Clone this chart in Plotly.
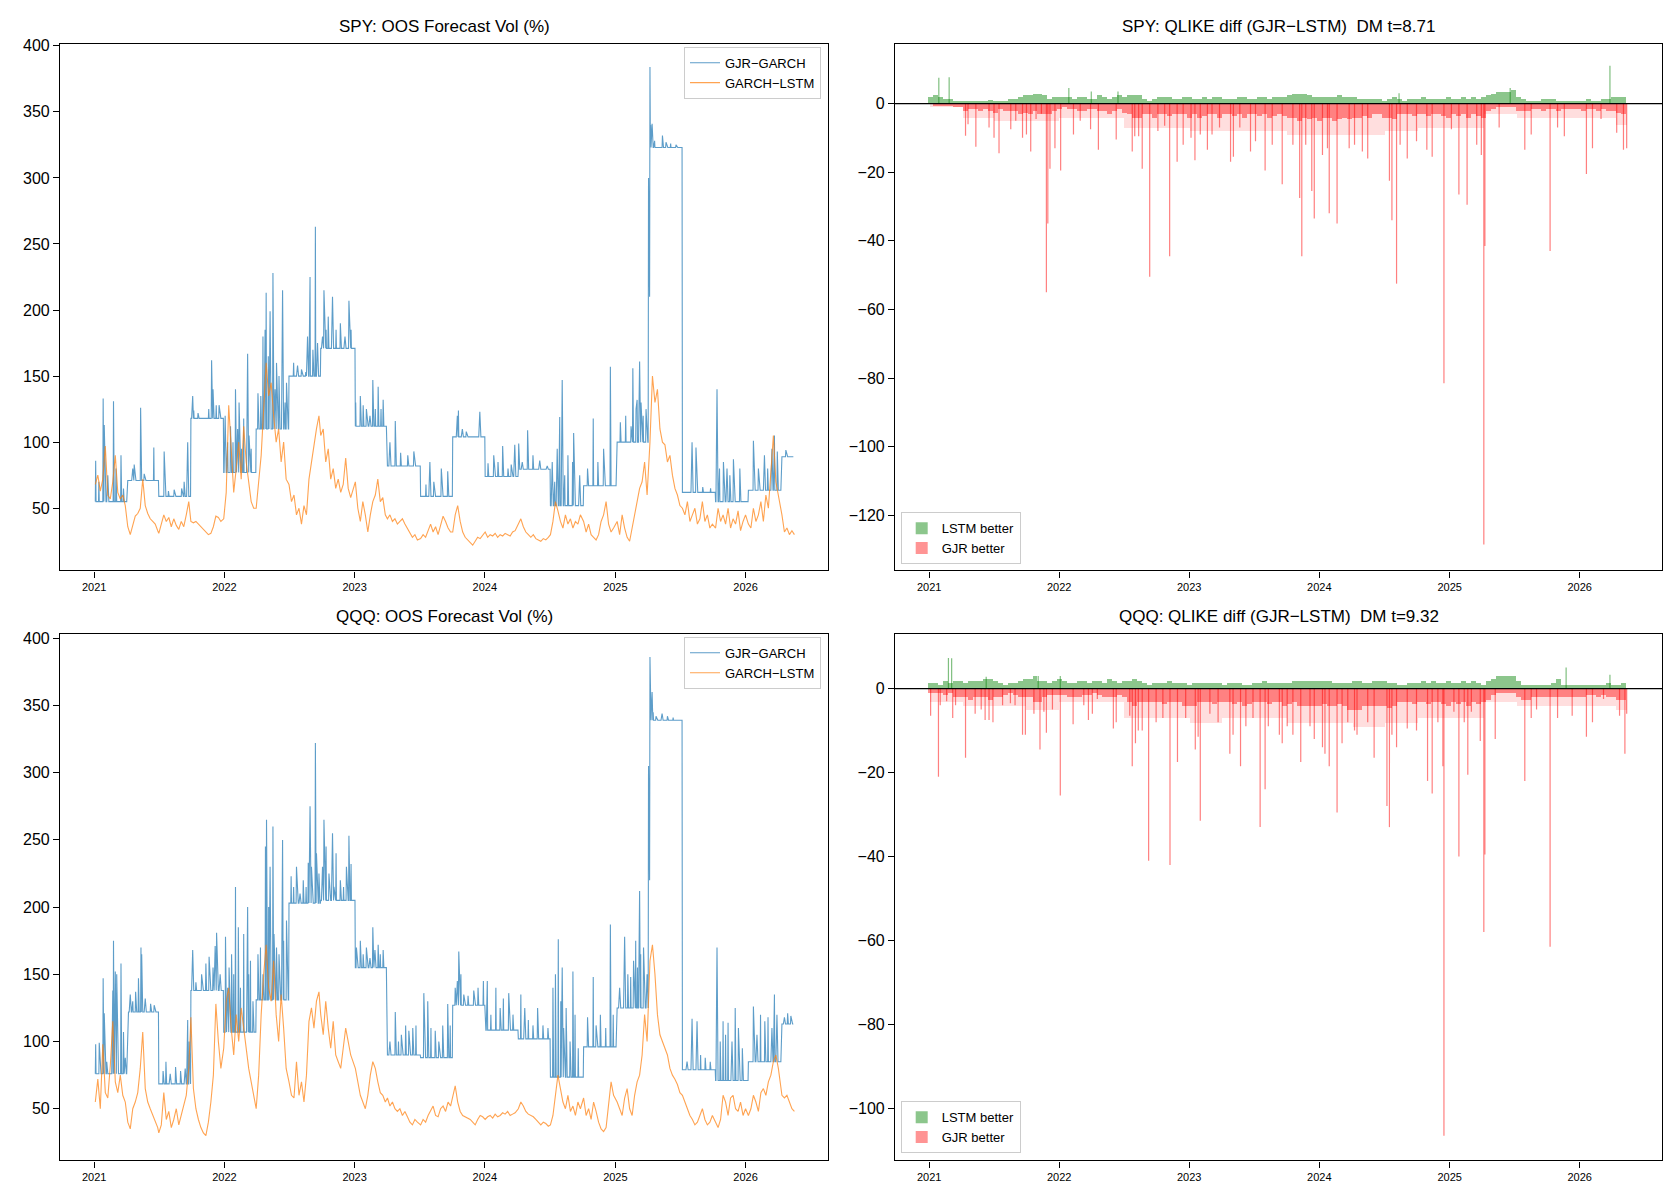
import numpy as np
import pandas as pd
import plotly.graph_objects as go

# ---------------- data ----------------
day_start, day_end = "2021-01-04", "2026-05-15"
biweek_start = "2021-01-04"          # biweekly samples, 14 days apart

# GJR refit segments (start dates)
seg_starts = ["2021-01-04", "2021-04-05", "2021-07-01", "2021-09-29", "2021-12-30", "2022-03-31",
              "2022-07-01", "2022-09-28", "2023-01-03", "2023-04-03", "2023-07-05", "2023-10-03",
              "2024-01-02", "2024-04-04", "2024-07-03", "2024-10-04", "2025-01-06", "2025-04-08",
              "2025-07-08", "2025-10-09", "2026-01-09", "2026-04-13"]

spy_gjr_base = [55, 71, 59, 118, 77, 110, 150, 171, 112, 82, 59, 104, 74, 79.5, 52, 67, 100, 323,
                62, 55, 63.6, 89]
spy_gjr_spike_dates = [
    "2021-01-05", "2021-01-14", "2021-01-26", "2021-01-29", "2021-02-08", "2021-02-24", "2021-03-03", "2021-03-17", "2021-03-24",
    "2021-04-19", "2021-04-23", "2021-05-11", "2021-05-21", "2021-06-17",
    "2021-07-16", "2021-07-28", "2021-08-13", "2021-09-03", "2021-09-10", "2021-09-20",
    "2021-10-04", "2021-10-07", "2021-10-19", "2021-11-18", "2021-11-26", "2021-11-30", "2021-12-09", "2021-12-17",
    "2022-01-03", "2022-01-10", "2022-01-18", "2022-01-25", "2022-02-01", "2022-02-07", "2022-02-11", "2022-02-18",
    "2022-02-24", "2022-03-07", "2022-03-11", "2022-03-17",
    "2022-04-05", "2022-04-13", "2022-04-19", "2022-04-25", "2022-04-28", "2022-05-04", "2022-05-09", "2022-05-17",
    "2022-05-23", "2022-05-27", "2022-06-03", "2022-06-13", "2022-06-20", "2022-06-24",
    "2022-07-14", "2022-07-25", "2022-08-05", "2022-08-17", "2022-08-22", "2022-08-29", "2022-09-06", "2022-09-13", "2022-09-19",
    "2022-10-03", "2022-10-07", "2022-10-13", "2022-10-19", "2022-10-31", "2022-11-10", "2022-11-22", "2022-12-05", "2022-12-16", "2022-12-22",
    "2023-01-04", "2023-01-17", "2023-01-25", "2023-02-03", "2023-02-13", "2023-02-21", "2023-02-28", "2023-03-08", "2023-03-16", "2023-03-22",
    "2023-04-10", "2023-04-25", "2023-05-10", "2023-05-30", "2023-06-16",
    "2023-07-20", "2023-07-31", "2023-08-11", "2023-09-01", "2023-09-19",
    "2023-10-16", "2023-10-19", "2023-10-30", "2023-11-10", "2023-12-18",
    "2024-01-10", "2024-01-26", "2024-02-07", "2024-02-20", "2024-03-06", "2024-03-15", "2024-03-25",
    "2024-04-05", "2024-04-15", "2024-04-30", "2024-05-15", "2024-06-03", "2024-06-24",
    "2024-07-08", "2024-07-15", "2024-07-22", "2024-07-29", "2024-08-05", "2024-08-12", "2024-08-21", "2024-09-03", "2024-09-06", "2024-09-23",
    "2024-10-15", "2024-10-31", "2024-11-13", "2024-11-29", "2024-12-18",
    "2025-01-15", "2025-01-30", "2025-02-14", "2025-02-19", "2025-02-28", "2025-03-03", "2025-03-10", "2025-03-14", "2025-03-20", "2025-03-28",
    "2025-04-04", "2025-04-07", "2025-04-08", "2025-04-09", "2025-04-10", "2025-04-14", "2025-04-21", "2025-05-13", "2025-05-23", "2025-06-05", "2025-06-20",
    "2025-08-04", "2025-08-15", "2025-09-03", "2025-09-25",
    "2025-10-13", "2025-10-20", "2025-10-31", "2025-11-10", "2025-11-18", "2025-11-28", "2025-12-16",
    "2026-01-23", "2026-02-06", "2026-02-23", "2026-03-04", "2026-03-16", "2026-03-23", "2026-03-31",
    "2026-04-24"]
spy_gjr_spike_vals = [
    86, 70, 133, 113, 75, 131, 80, 90, 65,
    80, 83, 126, 76, 96,
    93, 63, 64, 65, 70, 100,
    135, 124, 122, 125, 162, 140, 128, 128,
    120, 100, 112, 100, 140, 110, 130, 95, 118, 167, 105, 95,
    137, 135, 180, 185, 213, 165, 199, 228, 140, 160, 150, 215, 130, 145,
    160, 158, 155, 153, 180, 225, 170, 263, 175,
    180, 215, 185, 195, 210, 185, 190, 180, 207, 185,
    130, 135, 128, 125, 120, 147, 125, 142, 125, 132,
    100, 116, 92, 90, 93,
    68, 85, 70, 80, 78,
    120, 124, 110, 108, 123,
    84, 90, 85, 97, 80, 83, 98,
    99, 85, 109, 90, 86, 82,
    85, 70, 95, 119, 147, 75, 90, 85, 107, 75,
    80, 118, 85, 95, 157,
    115, 120, 112, 156, 125, 132, 161, 130, 120, 125,
    300, 210, 384, 335, 340, 341, 328, 332, 327, 326, 325,
    100, 96, 66, 65,
    140, 80, 85, 80, 75, 87, 80,
    101, 80, 90, 80, 95, 105, 93,
    94]

qqq_gjr_base = [76, 122, 68.5, 138, 107, 131, 203, 205, 155, 90, 88, 127, 108.5, 102, 73.5, 96, 125, 339,
                79, 71, 85, 113]
qqq_gjr_spike_dates = [
    "2021-01-05", "2021-01-15", "2021-01-26", "2021-01-29", "2021-02-05", "2021-02-22", "2021-02-24", "2021-03-01", "2021-03-05", "2021-03-17", "2021-03-24", "2021-03-29",
    "2021-04-12", "2021-04-19", "2021-04-27", "2021-05-05", "2021-05-12", "2021-05-14", "2021-05-24", "2021-06-08", "2021-06-18",
    "2021-07-13", "2021-07-21", "2021-08-02", "2021-08-17", "2021-08-31", "2021-09-13", "2021-09-20", "2021-09-24",
    "2021-10-04", "2021-10-13", "2021-10-29", "2021-11-10", "2021-11-19", "2021-11-30", "2021-12-06", "2021-12-10", "2021-12-20",
    "2022-01-04", "2022-01-10", "2022-01-14", "2022-01-21", "2022-01-27", "2022-02-01", "2022-02-09", "2022-02-15", "2022-02-24", "2022-03-07", "2022-03-10", "2022-03-15", "2022-03-22",
    "2022-04-05", "2022-04-12", "2022-04-19", "2022-04-26", "2022-04-29", "2022-05-05", "2022-05-09", "2022-05-17", "2022-05-20", "2022-05-27", "2022-06-03", "2022-06-13", "2022-06-16", "2022-06-24",
    "2022-07-07", "2022-07-14", "2022-07-22", "2022-08-01", "2022-08-10", "2022-08-18", "2022-08-24", "2022-08-29", "2022-09-02", "2022-09-13", "2022-09-16", "2022-09-23",
    "2022-10-03", "2022-10-07", "2022-10-13", "2022-10-21", "2022-10-31", "2022-11-04", "2022-11-10", "2022-11-22", "2022-12-01", "2022-12-09", "2022-12-16", "2022-12-22",
    "2023-01-06", "2023-01-17", "2023-01-25", "2023-02-03", "2023-02-13", "2023-02-21", "2023-02-27", "2023-03-08", "2023-03-14", "2023-03-22",
    "2023-04-10", "2023-04-25", "2023-05-04", "2023-05-12", "2023-05-24", "2023-06-02", "2023-06-13", "2023-06-22",
    "2023-07-14", "2023-07-25", "2023-08-03", "2023-08-15", "2023-08-25", "2023-09-05", "2023-09-19", "2023-09-26",
    "2023-10-10", "2023-10-16", "2023-10-20", "2023-10-26", "2023-11-03", "2023-11-15", "2023-12-01", "2023-12-13", "2023-12-28",
    "2024-01-08", "2024-01-18", "2024-02-01", "2024-02-13", "2024-02-22", "2024-03-08", "2024-03-20",
    "2024-04-11", "2024-04-22", "2024-05-02", "2024-05-15", "2024-05-28", "2024-06-12", "2024-06-26",
    "2024-07-10", "2024-07-17", "2024-07-25", "2024-08-01", "2024-08-05", "2024-08-09", "2024-08-16", "2024-08-27", "2024-09-04", "2024-09-10", "2024-09-19",
    "2024-10-15", "2024-10-31", "2024-11-08", "2024-11-20", "2024-12-05", "2024-12-18", "2024-12-26",
    "2025-01-13", "2025-01-27", "2025-02-05", "2025-02-13", "2025-02-21", "2025-02-27", "2025-03-04", "2025-03-10", "2025-03-13", "2025-03-21", "2025-03-31",
    "2025-04-04", "2025-04-07", "2025-04-08", "2025-04-10", "2025-04-14", "2025-04-17", "2025-04-25", "2025-05-12", "2025-05-27", "2025-06-12",
    "2025-07-21", "2025-08-04", "2025-08-18", "2025-08-28", "2025-09-10", "2025-09-24",
    "2025-10-13", "2025-10-22", "2025-10-30", "2025-11-06", "2025-11-13", "2025-11-24", "2025-12-03", "2025-12-12", "2025-12-23",
    "2026-01-23", "2026-02-02", "2026-02-12", "2026-02-24", "2026-03-05", "2026-03-16", "2026-03-23", "2026-03-30",
    "2026-04-20", "2026-04-29", "2026-05-08"]
qqq_gjr_spike_vals = [
    98, 99, 147, 121, 85, 138, 175, 152, 150, 158, 107, 88,
    135, 130, 137, 147, 170, 165, 132, 128, 127,
    78, 85, 76, 81, 78, 80, 116, 100,
    168, 144, 150, 158, 163, 155, 171, 181, 150,
    178, 140, 155, 165, 150, 215, 185, 140, 180, 200, 150, 160, 130,
    165, 170, 150, 245, 265, 200, 230, 260, 180, 170, 165, 250, 175, 190,
    223, 215, 230, 210, 220, 215, 233, 275, 230, 322, 240, 225,
    230, 265, 245, 225, 255, 215, 240, 220, 215, 230, 253, 232,
    170, 175, 165, 170, 162, 185, 168, 172, 165, 168,
    100, 122, 100, 105, 112, 108, 110, 112,
    136, 130, 110, 108, 100, 112, 128, 112,
    140, 145, 167, 150, 135, 134, 138, 140, 145,
    145, 120, 140, 125, 132, 136, 120,
    135, 125, 116, 112, 125, 112, 110,
    140, 150, 176, 130, 155, 110, 125, 100, 152, 120, 95,
    118, 148, 112, 120, 110, 187, 120,
    140, 178, 150, 148, 160, 175, 155, 212, 165, 170, 150,
    305, 220, 386, 364, 360, 345, 342, 344, 342, 341,
    85, 117, 115, 90, 88, 85,
    170, 100, 115, 105, 114, 100, 125, 110, 95,
    126, 105, 120, 115, 118, 110, 135, 120,
    118, 121, 119]

# GARCH-LSTM forecasts: weekly readings, one row per refit segment (row k starts at seg_starts[k])
spy_lstm_weekly = [
    [68, 75, 63, 72, 97, 60, 57, 70, 90, 62, 57, 60, 52],
    [36, 30, 38, 44, 46, 50, 72, 52, 46, 42, 40, 38, 33],
    [31, 38, 45, 40, 43, 36, 42, 37, 34, 40, 36, 45, 55],
    [40, 39, 40, 38, 36, 34, 32, 30, 31, 36, 44, 43, 40],
    [42, 62, 128, 95, 62, 80, 100, 72, 112, 85, 70, 55, 50],
    [50, 70, 90, 125, 160, 135, 145, 120, 100, 110, 85, 100, 72],
    [68, 55, 60, 45, 50, 38, 52, 45, 72, 85, 100, 110, 120],
    [105, 110, 85, 95, 72, 80, 65, 72, 62, 68, 88, 65, 58],
    [70, 50, 40, 55, 45, 32, 45, 55, 60, 72, 55, 58, 45],
    [42, 45, 40, 42, 38, 40, 42, 38, 35, 32, 28, 30, 26],
    [27, 30, 28, 33, 38, 32, 36, 30, 38, 44, 40, 35, 32],
    [32, 45, 52, 40, 32, 28, 26, 24, 22, 25, 28, 27, 30],
    [32, 28, 30, 29, 31, 28, 30, 29, 31, 30, 29, 32, 33],
    [38, 42, 36, 32, 30, 28, 30, 27, 26, 25, 27, 26, 28],
    [30, 40, 55, 48, 40, 35, 45, 38, 42, 35, 40, 38, 45],
    [40, 32, 38, 30, 28, 26, 30, 40, 45, 55, 38, 32, 35],
    [40, 30, 45, 35, 28, 25, 35, 42, 55, 65, 70, 85, 60],
    [100, 150, 130, 140, 110, 100, 98, 85, 90, 75, 65, 60, 52],
    [50, 45, 55, 40, 45, 50, 38, 42, 55, 40, 45, 35, 38],
    [35, 50, 40, 45, 38, 50, 35, 42, 38, 48, 33, 40, 45],
    [38, 35, 50, 40, 45, 55, 40, 60, 50, 80, 105, 70, 60],
    [45, 32, 35, 30, 33, 30],
]
qqq_lstm_weekly = [
    [55, 72, 50, 98, 62, 58, 82, 115, 70, 62, 75, 60, 55],
    [40, 35, 50, 55, 62, 80, 107, 65, 55, 50, 45, 40, 36],
    [32, 38, 62, 42, 48, 36, 42, 50, 38, 45, 52, 60, 80],
    [118, 65, 50, 42, 36, 32, 30, 40, 55, 75, 128, 100, 80],
    [95, 130, 140, 110, 90, 120, 100, 125, 110, 95, 80, 70, 60],
    [50, 75, 120, 150, 172, 140, 130, 160, 120, 100, 135, 110, 80],
    [70, 60, 58, 85, 60, 70, 55, 75, 115, 125, 110, 130, 137],
    [120, 105, 130, 110, 95, 115, 90, 85, 80, 95, 110, 100, 90],
    [80, 70, 60, 55, 50, 60, 75, 85, 80, 70, 62, 60, 55],
    [58, 52, 55, 50, 48, 50, 45, 48, 44, 40, 38, 42, 40],
    [38, 42, 40, 45, 48, 52, 45, 44, 50, 52, 48, 55, 52],
    [60, 67, 55, 48, 45, 44, 43, 42, 40, 38, 42, 45, 44],
    [42, 44, 45, 43, 46, 44, 45, 47, 46, 48, 45, 46, 47],
    [50, 55, 52, 48, 46, 45, 44, 42, 40, 38, 40, 39, 37],
    [38, 45, 60, 75, 65, 55, 50, 60, 48, 52, 45, 55, 50],
    [58, 45, 50, 42, 55, 48, 40, 35, 33, 36, 55, 70, 60],
    [55, 50, 45, 58, 65, 50, 45, 60, 70, 75, 90, 120, 100],
    [160, 172, 150, 120, 105, 100, 95, 90, 80, 75, 72, 68, 62],
    [60, 55, 50, 45, 42, 38, 40, 45, 50, 42, 38, 40, 45],
    [40, 36, 42, 60, 55, 45, 58, 60, 50, 48, 55, 45, 50],
    [45, 50, 60, 55, 48, 62, 65, 60, 70, 75, 85, 90, 80],
    [60, 58, 60, 55, 50, 48],
]

spy_green = [2, 2.5, 2, 1.5, 1.5, 0.8, 1, 0.8, 0.8, 1,
             1, 1, 1.2, 1, 1, 1, 1.5, 1.5, 2, 2.5,
             2.5, 3, 3, 2.5, 1.5, 2, 2, 2, 2, 1.5,
             2, 2, 1.5, 1.5, 2.5, 2, 1.5, 2, 2.5, 2,
             2.5, 2.5, 2.5, 1.5, 1, 1.5, 2, 2, 2, 1.5,
             1.5, 2, 2, 1.5, 1.5, 2, 1.5, 2, 2, 1.5,
             1.5, 1.5, 2, 2, 1.5, 1.5, 2, 2, 1.5, 2,
             2, 2, 2.5, 3, 3, 3, 2.5, 2, 2, 2,
             2, 2, 2.5, 2, 2, 2, 1.5, 1.5, 1.5, 1.5,
             1.5, 1, 1.5, 2, 1.5, 1, 1.5, 1.5, 1.5, 2,
             1.5, 1.5, 1.5, 1.5, 2, 1.5, 1.5, 2, 1.5, 2,
             1.5, 2, 2.5, 3, 3.5, 3.5, 3.5, 4, 2, 1.5,
             1, 1, 1, 1.5, 1.5, 1.5, 1, 1, 1, 1,
             1, 1, 1.5, 1, 1, 1.5, 1.5, 2, 2, 2]
spy_red = [0, -0.5, -0.5, -0.5, -0.5, -1, -1, -2, -1.5, -1.5,
           -2, -1.5, -2, -2.5, -1.5, -2, -2, -2, -3, -2.5,
           -3, -2, -3, -3, -3, -2, -1.5, -1, -1.5, -1.5,
           -2, -2, -1.5, -1.5, -2, -2, -3, -2, -1.5, -2.5,
           -3, -4, -4, -3, -3, -4, -3, -3, -3.5, -3,
           -3, -3, -4, -3, -4, -3.5, -3, -3, -4, -3,
           -3, -3.5, -3, -4, -3, -3, -3.5, -3, -4, -3.5,
           -3, -3.5, -4, -4, -5, -4, -4.5, -4, -5, -4,
           -4, -5, -4.5, -4, -4.5, -4, -4, -3.5, -4, -3,
           -3, -4, -4, -4.5, -3, -3, -3, -3.5, -3, -3,
           -3.5, -3, -3, -3.5, -4, -3, -3.5, -3, -4, -3,
           -3.5, -4, -2, -1.5, -1, -1, -1, -1, -2, -2,
           -2, -1.5, -1.5, -2, -1.5, -1.5, -2, -1.5, -1.5, -1.5,
           -1.5, -2, -1.5, -1.5, -2, -1.5, -2, -2, -2.5, -3]
# typical depth of the dense field of small red bars, per refit segment
spy_red_field = [-1, -4, -5, -5, -4, -4, -7, -7, -8, -8, -8, -9, -9, -9, -8, -7, -7, -3, -4, -4, -4, -6]
spy_green_spike_dates = ["2021-01-28", "2021-02-26", "2022-01-28", "2022-04-01", "2022-06-15", "2024-08-12",
                         "2025-06-20", "2026-03-27"]
spy_green_spike_vals = [7.5, 7.7, 4.5, 3.5, 3.5, 3, 4.5, 11]
spy_red_spike_dates = [
    "2021-04-13", "2021-04-20", "2021-05-12", "2021-06-18", "2021-07-02", "2021-07-16", "2021-08-18", "2021-09-01",
    "2021-09-20", "2021-10-01", "2021-10-13", "2021-10-28", "2021-11-12", "2021-11-26", "2021-11-30", "2021-12-06",
    "2021-12-20", "2022-01-05", "2022-02-10", "2022-03-01", "2022-03-30", "2022-04-21", "2022-06-10", "2022-07-25",
    "2022-08-01", "2022-08-12", "2022-08-22", "2022-09-12", "2022-10-05", "2022-10-24", "2022-11-07", "2022-11-28",
    "2022-12-15", "2023-01-06", "2023-01-17", "2023-02-01", "2023-02-21", "2023-03-06", "2023-03-27", "2023-04-27",
    "2023-05-05", "2023-05-23", "2023-06-22", "2023-07-06", "2023-08-02", "2023-08-22", "2023-09-19", "2023-10-19",
    "2023-11-07", "2023-11-13", "2023-11-24", "2023-12-11", "2023-12-18", "2024-01-10", "2024-01-24", "2024-01-29",
    "2024-02-20", "2024-03-25", "2024-04-09", "2024-05-01", "2024-05-16", "2024-07-16", "2024-07-23", "2024-08-05",
    "2024-08-15", "2024-09-04", "2024-09-30", "2024-10-29", "2024-11-13", "2024-12-16", "2025-01-06", "2025-01-27",
    "2025-02-19", "2025-03-18", "2025-03-31", "2025-04-07", "2025-04-10", "2025-05-20", "2025-07-31", "2025-08-18",
    "2025-10-10", "2025-10-31", "2025-11-19", "2026-01-20", "2026-02-06", "2026-03-02", "2026-04-15", "2026-05-04",
    "2026-05-13"]
spy_red_spike_vals = [
    -9.4, -6, -12.6, -7, -10, -14.5, -7.5, -5,
    -10, -9, -14, -4.5, -3, -55, -35, -19,
    -13, -19.5, -9, -5, -7.5, -13.5, -10.5, -14,
    -9.5, -9.5, -19, -50.5, -8, -6.5, -44.5, -17,
    -12, -10, -16.5, -9, -13.5, -9, -7, -17,
    -15.5, -7, -14, -11, -19.5, -12, -23.5, -12,
    -27.5, -44.5, -12, -25.5, -33.5, -15, -13, -32,
    -35, -13, -12, -14, -16, -22.5, -34, -52.5,
    -12, -16, -11, -13.5, -15.5, -81.5, -7.5, -26.5,
    -29.5, -12, -15, -128.5, -41.5, -7, -13.5, -9,
    -43, -7, -9.5, -20.5, -13, -4.5, -8.5, -13.5,
    -13]

qqq_green = [1.5, 1.5, 1, 2, 1.5, 2, 2, 1.5, 2, 2,
             2, 2.5, 2.5, 2, 1.5, 1, 1.5, 1.5, 2, 2.5,
             2.5, 3, 2, 2, 1.5, 2, 2.5, 2, 1.5, 1.5,
             2, 2, 1.5, 2, 2, 1.5, 2.5, 2, 1.5, 2,
             2, 2.5, 2, 1.5, 1, 1.5, 1.5, 1.5, 2, 1.5,
             1.5, 1.5, 1, 1.5, 1.5, 1.5, 1.5, 1.5, 1.5, 1,
             1.5, 1.5, 1.5, 1, 1, 1.5, 1.5, 2, 1.5, 1.5,
             1.5, 1.5, 1.5, 2, 2, 2, 2, 2, 2, 2,
             2, 1.5, 1.5, 1.5, 1.5, 2, 2, 1.5, 1.5, 2,
             2, 2, 1.5, 1.5, 1, 1, 1.5, 1.5, 1.5, 2,
             1.5, 2, 1.5, 1.5, 2, 1.5, 1.5, 2, 1.5, 2,
             1.5, 1, 2, 2.5, 3, 3, 3, 3, 2, 1,
             1, 1, 1, 1, 1, 1.5, 2.5, 1, 1, 1,
             1, 1, 1, 1, 1, 1, 1.5, 1, 1, 1.5]
qqq_red = [-1, -1, -1, -1.5, -1, -2, -2, -2, -2.5, -2,
           -2, -2, -2.5, -2, -2, -1.5, -1, -1.5, -2, -2,
           -2, -3, -3, -2, -1.5, -1.5, -1.5, -1.5, -2, -2,
           -2, -1.5, -1.5, -1, -1.5, -2, -2, -2, -1.5, -2,
           -3, -4, -3, -3, -3, -3, -3, -3.5, -3, -3,
           -3, -4, -4, -4, -3, -3, -3, -3.5, -3, -3,
           -3, -3.5, -3, -4, -3.5, -3, -3, -3, -3.5, -3,
           -3, -4, -3.5, -3, -4, -4, -4, -4, -4, -3.5,
           -4, -4, -3.5, -4, -5, -5, -5, -4, -4, -4,
           -4, -4, -4.5, -4, -3, -3, -3, -3.5, -3, -3,
           -3.5, -3, -3, -3.5, -4, -3, -3.5, -3, -4, -3,
           -3.5, -3, -2.5, -1.5, -1, -1, -1, -1, -2, -2.5,
           -2.5, -2, -2, -2, -2, -2, -2, -2, -2, -2,
           -2, -2, -1.5, -1.5, -2, -1.5, -2, -2, -2.5, -2.5]
qqq_red_field = [-3, -4, -4, -5, -3, -3, -7, -7, -8, -7, -7, -8, -8, -9, -8, -7, -7, -3, -4, -4, -4, -5]
qqq_green_spike_dates = ["2021-02-24", "2021-03-05", "2021-06-10", "2021-11-03", "2022-01-04",
                         "2025-11-24", "2026-03-27"]
qqq_green_spike_vals = [7.3, 7.2, 2.8, 3, 3, 5, 3.3]
qqq_red_spike_dates = [
    "2021-01-05", "2021-01-27", "2021-02-01", "2021-02-19", "2021-03-08", "2021-03-16", "2021-04-13", "2021-05-10",
    "2021-05-27", "2021-06-07", "2021-06-18", "2021-06-29", "2021-07-26", "2021-08-17", "2021-08-30", "2021-09-20",
    "2021-09-28", "2021-10-22", "2021-11-08", "2021-11-19", "2021-11-26", "2021-12-13", "2022-01-04", "2022-02-09",
    "2022-03-11", "2022-03-24", "2022-04-04", "2022-04-18", "2022-06-02", "2022-06-10", "2022-07-18", "2022-07-25",
    "2022-08-03", "2022-08-11", "2022-08-22", "2022-09-09", "2022-09-30", "2022-10-19", "2022-11-08", "2022-11-29",
    "2022-12-22", "2023-01-18", "2023-01-26", "2023-02-01", "2023-02-28", "2023-03-23", "2023-04-25", "2023-05-04",
    "2023-05-25", "2023-06-09", "2023-06-29", "2023-07-19", "2023-08-02", "2023-08-11", "2023-09-11", "2023-09-19",
    "2023-10-03", "2023-10-19", "2023-11-10", "2023-12-06", "2023-12-18", "2024-01-10", "2024-01-17", "2024-01-29",
    "2024-02-20", "2024-03-05", "2024-03-21", "2024-04-09", "2024-04-16", "2024-05-16", "2024-06-03", "2024-07-09",
    "2024-07-16", "2024-07-23", "2024-08-05", "2024-09-04", "2024-09-30", "2024-10-31", "2024-11-13", "2024-11-29",
    "2024-12-13", "2024-12-16", "2025-01-13", "2025-01-27", "2025-02-11", "2025-02-21", "2025-03-03", "2025-03-28",
    "2025-04-07", "2025-04-10", "2025-05-09", "2025-07-31", "2025-08-18", "2025-09-02", "2025-10-10", "2025-10-31",
    "2025-12-11", "2026-01-20", "2026-02-06", "2026-03-09", "2026-04-23", "2026-05-08", "2026-05-13"]
qqq_red_spike_vals = [
    -6.5, -21, -4, -3, -7, -4, -16.5, -6,
    -5, -7.5, -7.5, -8, -4, -3.5, -4, -11,
    -11, -6, -14.5, -5.5, -10.5, -5, -25.5, -8.5,
    -4, -7.5, -6, -2.5, -9.5, -8, -6.5, -18.5,
    -13, -10, -10, -41, -8, -7, -42, -17.5,
    -7, -14.5, -11.5, -31.5, -6, -8, -15.5, -11,
    -18.5, -9, -7, -33, -24, -9, -11, -13,
    -9, -11, -17.5, -9, -12, -14, -15.5, -18.5,
    -29.5, -13, -8, -10, -11, -8, -16.5, -28,
    -33, -11, -14, -9.5, -10, -22, -25, -8,
    -18.5, -106.5, -5.5, -40, -8, -20.5, -5.5, -12.5,
    -58, -39.5, -12, -22, -7, -5, -61.5, -7,
    -6.5, -11.5, -8, -2.5, -6.5, -15.5, -6]

year_ticks = ["2021", "2022", "2023", "2024", "2025", "2026"]

# ---------------- helpers ----------------
days = pd.bdate_range(day_start, day_end)
biweeks = pd.date_range(biweek_start, periods=len(spy_green), freq="14D")
seg_ts = pd.to_datetime(seg_starts)
seg_ends = list(seg_ts[1:]) + [pd.Timestamp(day_end)]
seg_mid = [a + (b - a) / 2 for a, b in zip(seg_ts, seg_ends)]
seg_width = [(b - a).total_seconds() * 1000 for a, b in zip(seg_ts, seg_ends)]


def gjr_series(bases, sdates, svals):
    idx = np.searchsorted(seg_ts.values, days.values, side="right") - 1
    y = np.array(bases, dtype=float)[idx]
    for d, v in zip(sdates, svals):
        pos = min(days.searchsorted(pd.Timestamp(d)), len(days) - 1)
        y[pos] = v
    return y


def weekly_xy(rows):
    xs, ys = [], []
    for start, row in zip(seg_ts, rows):
        for k, v in enumerate(row):
            xs.append(start + pd.Timedelta(days=7 * k))
            ys.append(v)
    return xs, ys


def spike_xy(dates, vals):
    xs, ys = [], []
    for d, v in zip(dates, vals):
        xs += [d, d, None]
        ys += [0, v, None]
    return xs, ys


BLUE = "rgba(31,119,180,0.72)"
ORANGE = "rgba(255,127,14,0.72)"
GREEN = "rgba(0,128,0,0.5)"
RED = "rgba(255,0,0,0.5)"
RED_BASE = "rgba(255,0,0,0.42)"
RED_FIELD = "rgba(255,0,0,0.13)"
GREEN_BASE = "rgba(0,128,0,0.45)"
BW = 14 * 86400000

fig = go.Figure()

panels = [
    ("x", "y", "legend", spy_gjr_base, spy_gjr_spike_dates, spy_gjr_spike_vals, spy_lstm_weekly),
    ("x3", "y3", "legend2", qqq_gjr_base, qqq_gjr_spike_dates, qqq_gjr_spike_vals, qqq_lstm_weekly),
]
for xa, ya, lg, base, sd, sv, lstm in panels:
    fig.add_trace(go.Scatter(x=days, y=gjr_series(base, sd, sv), mode="lines", name="GJR\u2212GARCH",
                             line=dict(color=BLUE, width=1.1), xaxis=xa, yaxis=ya, legend=lg))
    lx, ly = weekly_xy(lstm)
    fig.add_trace(go.Scatter(x=lx, y=ly, mode="lines", name="GARCH\u2212LSTM",
                             line=dict(color=ORANGE, width=1.1), xaxis=xa, yaxis=ya, legend=lg))

bar_panels = [
    ("x2", "y2", "legend3", spy_green, spy_red, spy_red_field, spy_green_spike_dates, spy_green_spike_vals,
     spy_red_spike_dates, spy_red_spike_vals),
    ("x4", "y4", "legend4", qqq_green, qqq_red, qqq_red_field, qqq_green_spike_dates, qqq_green_spike_vals,
     qqq_red_spike_dates, qqq_red_spike_vals),
]
for xa, ya, lg, gb, rb, rf, gsd, gsv, rsd, rsv in bar_panels:
    fig.add_trace(go.Bar(x=seg_mid, y=rf, width=seg_width, marker=dict(color=RED_FIELD, line=dict(width=0)),
                         showlegend=False, xaxis=xa, yaxis=ya))
    fig.add_trace(go.Bar(x=biweeks, y=gb, width=BW, name="LSTM better",
                         marker=dict(color=GREEN_BASE, line=dict(width=0)),
                         xaxis=xa, yaxis=ya, legend=lg))
    fig.add_trace(go.Bar(x=biweeks, y=rb, width=BW, name="GJR better",
                         marker=dict(color=RED_BASE, line=dict(width=0)),
                         xaxis=xa, yaxis=ya, legend=lg))
    gx, gy = spike_xy(gsd, gsv)
    fig.add_trace(go.Scatter(x=gx, y=gy, mode="lines", line=dict(color=GREEN, width=1.2),
                             showlegend=False, xaxis=xa, yaxis=ya))
    rx, ry = spike_xy(rsd, rsv)
    fig.add_trace(go.Scatter(x=rx, y=ry, mode="lines", line=dict(color=RED, width=1.2),
                             showlegend=False, xaxis=xa, yaxis=ya))
    fig.add_shape(type="line", xref=f"{xa} domain", x0=0, x1=1, yref=ya, y0=0, y1=0,
                  line=dict(color="black", width=1.2))

W, H = 1680, 1200
L1, R1, L2, R2 = 60 / W, 828.3 / W, 895 / W, 1662.3 / W
T1, B1, T2, B2 = 1 - 37.7 / H, 1 - 567.3 / H, 1 - 630.7 / H, 1 - 1160.3 / H
xrange_ = ["2020-09-27", "2026-08-21"]
tickvals = [f"{y}-01-01" for y in year_ticks]


def xax(dom, anchor):
    return dict(domain=dom, anchor=anchor, type="date", range=xrange_, tickvals=tickvals,
                ticktext=year_ticks, ticks="outside", ticklen=6, tickwidth=1.2, tickcolor="black",
                showline=True, linecolor="black", linewidth=1.2, mirror=True, showgrid=False,
                zeroline=False, tickfont=dict(size=11, color="black"))


def yax(dom, anchor, rng, tv):
    return dict(domain=dom, anchor=anchor, range=rng, tickvals=tv,
                ticktext=[str(v).replace("-", "\u2212") for v in tv],
                ticks="outside", ticklen=6, tickwidth=1.2, tickcolor="black",
                showline=True, linecolor="black", linewidth=1.2, mirror=True, showgrid=False,
                zeroline=False, tickfont=dict(size=16, color="black"))


vol_ticks = [50, 100, 150, 200, 250, 300, 350, 400]
leg_common = dict(bgcolor="rgba(255,255,255,0.8)", bordercolor="#cccccc", borderwidth=1,
                  font=dict(size=13, color="black"), itemwidth=30, tracegroupgap=0)

title_font = dict(size=17, color="black")
annotations = [
    dict(text="SPY: OOS Forecast Vol (%)", x=(L1 + R1) / 2, y=1 - 20.5 / H),
    dict(text="SPY: QLIKE diff (GJR\u2212LSTM)  DM t=8.71", x=(L2 + R2) / 2, y=1 - 20.5 / H),
    dict(text="QQQ: OOS Forecast Vol (%)", x=(L1 + R1) / 2, y=1 - 613.5 / H),
    dict(text="QQQ: QLIKE diff (GJR\u2212LSTM)  DM t=9.32", x=(L2 + R2) / 2, y=1 - 613.5 / H),
]
for a in annotations:
    a.update(xref="paper", yref="paper", showarrow=False, xanchor="center", yanchor="middle",
             font=title_font)

fig.update_layout(
    width=W, height=H, margin=dict(l=0, r=0, t=0, b=0),
    paper_bgcolor="white", plot_bgcolor="white",
    font=dict(family="Liberation Sans, Arial, sans-serif", color="black"),
    barmode="overlay", bargap=0, hovermode=False,
    xaxis=xax([L1, R1], "y"), yaxis=yax([B1, T1], "x", [2.9, 401.7], vol_ticks),
    xaxis2=xax([L2, R2], "y2"), yaxis2=yax([B1, T1], "x2", [-136.1, 17.5], [-120, -100, -80, -60, -40, -20, 0]),
    xaxis3=xax([L1, R1], "y3"), yaxis3=yax([B2, T2], "x3", [11.5, 403.5], vol_ticks),
    xaxis4=xax([L2, R2], "y4"), yaxis4=yax([B2, T2], "x4", [-112.4, 13.1], [-100, -80, -60, -40, -20, 0]),
    legend=dict(x=821 / W, y=1 - 41 / H, xanchor="right", yanchor="top", **leg_common),
    legend2=dict(x=821 / W, y=1 - 634 / H, xanchor="right", yanchor="top", **leg_common),
    legend3=dict(x=900.7 / W, y=1 - 561 / H, xanchor="left", yanchor="bottom", **leg_common),
    legend4=dict(x=900.7 / W, y=1 - 1153 / H, xanchor="left", yanchor="bottom", **leg_common),
    annotations=annotations,
)

fig.write_html("out.html")
